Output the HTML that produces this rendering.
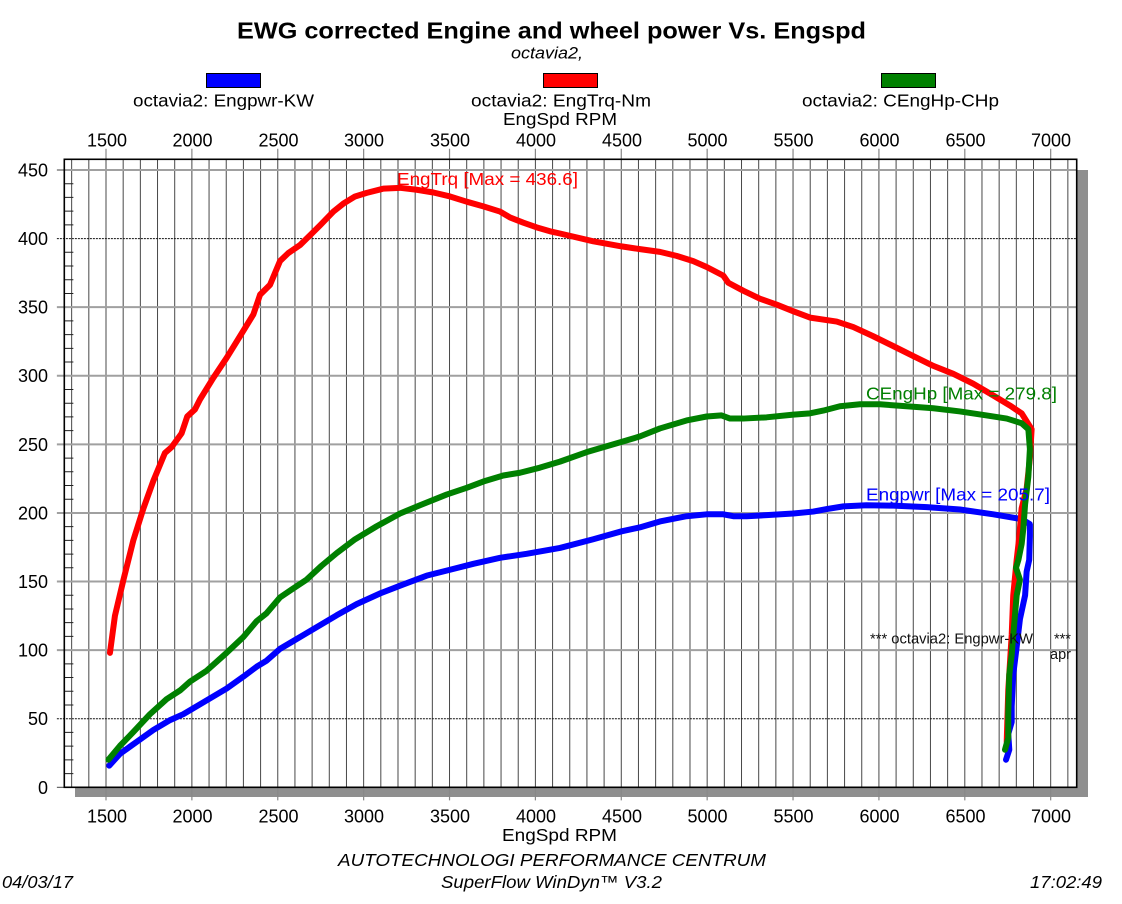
<!DOCTYPE html>
<html>
<head>
<meta charset="utf-8">
<style>
html,body{margin:0;padding:0;background:#fff;}
svg{display:block;}
text{font-family:"Liberation Sans",Arial,sans-serif;}
</style>
</head>
<body>
<svg width="1122" height="904" viewBox="0 0 1122 904" xmlns="http://www.w3.org/2000/svg">
<rect x="0" y="0" width="1122" height="904" fill="#fff"/>

<!-- Title & legend -->
<text x="551.5" y="38.5" font-size="23" font-weight="bold" text-anchor="middle" textLength="629" lengthAdjust="spacingAndGlyphs">EWG corrected Engine and wheel power Vs. Engspd</text>
<text x="547" y="58.5" font-size="17" font-style="italic" text-anchor="middle" textLength="72" lengthAdjust="spacingAndGlyphs">octavia2,</text>

<rect x="206.5" y="73.5" width="54" height="14" fill="#0000ff" stroke="#000" stroke-width="1"/>
<rect x="543.5" y="73.5" width="54" height="14" fill="#ff0000" stroke="#000" stroke-width="1"/>
<rect x="881.5" y="73.5" width="54" height="14" fill="#008000" stroke="#000" stroke-width="1"/>

<text x="133" y="106.5" font-size="17.5" textLength="181" lengthAdjust="spacingAndGlyphs">octavia2: Engpwr-KW</text>
<text x="471" y="106.5" font-size="17.5" textLength="180" lengthAdjust="spacingAndGlyphs">octavia2: EngTrq-Nm</text>
<text x="802" y="106.5" font-size="17.5" textLength="197" lengthAdjust="spacingAndGlyphs">octavia2: CEngHp-CHp</text>
<text x="503" y="125" font-size="17.5" textLength="114" lengthAdjust="spacingAndGlyphs">EngSpd RPM</text>

<!-- shadow -->
<rect x="1077" y="170" width="11" height="627" fill="#8f8f8f"/>
<rect x="75" y="787" width="1013" height="10" fill="#8f8f8f"/>
<rect x="64.3" y="159.3" width="1012.4" height="628" fill="#fff"/>

<g transform="matrix(0.17176,0,0,-1.3718,-151.64,787.3)" fill="none">
  <!-- vertical grid -->
  <path vector-effect="non-scaling-stroke" stroke="#484848" stroke-width="1"
    d="M1300,0V457.8M1400,0V457.8M1500,0V457.8M1600,0V457.8M1700,0V457.8M1800,0V457.8M1900,0V457.8M2000,0V457.8M2100,0V457.8M2200,0V457.8M2300,0V457.8M2400,0V457.8M2500,0V457.8M2600,0V457.8M2700,0V457.8M2800,0V457.8M2900,0V457.8M3000,0V457.8M3100,0V457.8M3200,0V457.8M3300,0V457.8M3400,0V457.8M3500,0V457.8M3600,0V457.8M3700,0V457.8M3800,0V457.8M3900,0V457.8M4000,0V457.8M4100,0V457.8M4200,0V457.8M4300,0V457.8M4400,0V457.8M4500,0V457.8M4600,0V457.8M4700,0V457.8M4800,0V457.8M4900,0V457.8M5000,0V457.8M5100,0V457.8M5200,0V457.8M5300,0V457.8M5400,0V457.8M5500,0V457.8M5600,0V457.8M5700,0V457.8M5800,0V457.8M5900,0V457.8M6000,0V457.8M6100,0V457.8M6200,0V457.8M6300,0V457.8M6400,0V457.8M6500,0V457.8M6600,0V457.8M6700,0V457.8M6800,0V457.8M6900,0V457.8M7000,0V457.8M7100,0V457.8"/>
  <!-- major ticks top / bottom -->
  <path vector-effect="non-scaling-stroke" stroke="#888" stroke-width="1.2"
    d="M1500,457.8V465.5M2000,457.8V465.5M2500,457.8V465.5M3000,457.8V465.5M3500,457.8V465.5M4000,457.8V465.5M4500,457.8V465.5M5000,457.8V465.5M5500,457.8V465.5M6000,457.8V465.5M6500,457.8V465.5M7000,457.8V465.5
       M1500,0V-9.5M2000,0V-9.5M2500,0V-9.5M3000,0V-9.5M3500,0V-9.5M4000,0V-9.5M4500,0V-9.5M5000,0V-9.5M5500,0V-9.5M6000,0V-9.5M6500,0V-9.5M7000,0V-9.5"/>
  <!-- horizontal grid gray -->
  <path vector-effect="non-scaling-stroke" stroke="#a0a0a0" stroke-width="2"
    d="M1214,450H7151M1214,350H7151M1214,300H7151M1214,250H7151M1214,200H7151M1214,150H7151M1214,100H7151"/>
  <!-- horizontal grid dark dotted -->
  <path vector-effect="non-scaling-stroke" stroke="#111" stroke-width="1" stroke-dasharray="2,1"
    d="M1214,400H7151M1214,50H7151"/>
  <path vector-effect="non-scaling-stroke" stroke="#444" stroke-width="1" d="M1214,0H1257"/>
  <!-- minor ticks left -->
  <path vector-effect="non-scaling-stroke" stroke="#222" stroke-width="1"
    d="M1257,10H1310M1257,20H1310M1257,30H1310M1257,40H1310M1257,60H1310M1257,70H1310M1257,80H1310M1257,90H1310M1257,110H1310M1257,120H1310M1257,130H1310M1257,140H1310M1257,160H1310M1257,170H1310M1257,180H1310M1257,190H1310M1257,210H1310M1257,220H1310M1257,230H1310M1257,240H1310M1257,260H1310M1257,270H1310M1257,280H1310M1257,290H1310M1257,310H1310M1257,320H1310M1257,330H1310M1257,340H1310M1257,360H1310M1257,370H1310M1257,380H1310M1257,390H1310M1257,410H1310M1257,420H1310M1257,430H1310M1257,440H1310"/>
</g>

<!-- plot border -->
<rect x="64.3" y="159.3" width="1012.4" height="628" fill="none" stroke="#000" stroke-width="1.6"/>

<!-- series -->
<g transform="matrix(0.17176,0,0,-1.3718,-151.64,787.3)" fill="none" stroke-linejoin="round" stroke-linecap="round">
  <path vector-effect="non-scaling-stroke" stroke="#0000ff" stroke-width="6"
    d="M1519,15.8L1581,24.4L1678,33.1L1776,41.8L1873,49L1950,53.3L2008,57.6L2105,64.8L2202,72L2300,80.7L2377,87.9L2435,92.3L2513,100.9L2571,105.2L2649,111L2746,118.2L2843,125.4L2959,133.5L3095,141.3L3231,147.9L3367,154.3L3503,158.6L3639,162.9L3794,167.3L3949,170.2L4143,174.5L4337,180.8L4502,186.6L4609,189.5L4725,193.8L4880,197.6L4997,199L5094,199L5152,197.6L5230,197.6L5346,198.4L5502,199.6L5618,201L5696,202.8L5793,204.8L5928,205.6L6084,205.3L6278,204.2L6472,202.5L6666,199L6831,195.5L6879,191.8L6879,183.1L6875,165.8L6860,157.2L6851,139.9L6821,122.6L6802,102.4L6782,82.2L6773,59.1L6773,47.6L6753,38.9L6759,27.4L6740,20.1"/>
  <path vector-effect="non-scaling-stroke" stroke="#ff0000" stroke-width="6"
    d="M1523,98L1552,125L1601,151L1659,180L1717,203L1776,223.5L1843,243.7L1882,248L1940,258L1973,270.3L2018,275.5L2047,282.7L2125,298.5L2202,313L2280,328.8L2358,344.7L2397,359.1L2455,366.3L2513,383.6L2561,389.4L2629,395.2L2688,402.4L2746,409.6L2824,419.7L2882,425.5L2950,430.7L3018,433.3L3115,436.4L3212,437L3309,435.6L3406,433.6L3503,430.7L3600,426.9L3697,423.5L3794,419.7L3852,415.4L3930,411.6L4007,408.2L4085,405.3L4143,403.7L4337,398L4502,394.3L4609,392.3L4725,390.3L4822,387.4L4919,383.6L4997,379.3L5094,373L5123,367.8L5210,362L5307,356.2L5404,351.9L5502,347L5599,342.4L5754,339.5L5851,335.5L5967,328.8L6084,321.6L6200,314.4L6317,307.2L6433,301.4L6549,294.2L6666,285.6L6763,278.3L6831,272.6L6889,261L6879,240L6860,217.8L6831,203.3L6815,180L6802,165.8L6782,139.9L6773,111L6753,70.6L6744,33.1"/>
  <path vector-effect="non-scaling-stroke" stroke="#008000" stroke-width="6"
    d="M1514,20.1L1581,30.2L1659,40.3L1756,53.3L1853,64.3L1931,70.6L1989,77L2086,85L2202,98L2300,109.6L2377,121.1L2435,126.9L2513,138.4L2581,144.2L2668,151.4L2755,161.5L2843,170.7L2950,180.8L3076,190.3L3212,199.6L3328,205.6L3483,213.4L3600,218.3L3697,222.9L3813,227.3L3910,229.3L4026,233L4143,237.4L4298,244.3L4502,251.8L4609,255.8L4725,261.6L4880,267.4L4997,270.3L5084,271.1L5133,268.8L5210,268.8L5346,269.7L5502,271.7L5599,272.6L5676,274.6L5773,277.8L5890,279.2L6006,279.2L6161,277.8L6317,276.3L6472,274L6627,271.1L6744,268.8L6831,265.4L6870,261L6879,246.6L6870,226.4L6851,206.2L6841,188.9L6831,177.4L6812,165.8L6798,160L6821,151.4L6802,139.9L6782,111L6773,96.6L6759,82.2L6753,53.3L6753,36L6734,27.4"/>
</g>

<!-- annotations -->
<text x="397" y="185" font-size="17.5" fill="#ff0000" textLength="181" lengthAdjust="spacingAndGlyphs">EngTrq [Max = 436.6]</text>
<text x="866" y="399.5" font-size="17.5" fill="#008000" textLength="191" lengthAdjust="spacingAndGlyphs">CEngHp [Max = 279.8]</text>
<text x="866" y="500.5" font-size="17.5" fill="#0000ff" textLength="184" lengthAdjust="spacingAndGlyphs">Engpwr [Max = 205.7]</text>
<text x="870" y="643.5" font-size="14.5" fill="#111" textLength="163" lengthAdjust="spacingAndGlyphs">*** octavia2: Engpwr-KW</text>
<text x="1054" y="643.5" font-size="14.5" fill="#111">***</text>
<text x="1050" y="659" font-size="14.5" fill="#111">apr</text>

<!-- top tick labels -->
<g font-size="18" text-anchor="middle">
<text x="107" y="146.5">1500</text>
<text x="192.5" y="146.5">2000</text>
<text x="278.5" y="146.5">2500</text>
<text x="364" y="146.5">3000</text>
<text x="450" y="146.5">3500</text>
<text x="536" y="146.5">4000</text>
<text x="622" y="146.5">4500</text>
<text x="707.5" y="146.5">5000</text>
<text x="793.5" y="146.5">5500</text>
<text x="879.5" y="146.5">6000</text>
<text x="965.5" y="146.5">6500</text>
<text x="1051" y="146.5">7000</text>
</g>
<!-- bottom tick labels -->
<g font-size="18" text-anchor="middle">
<text x="107" y="822.5">1500</text>
<text x="192.5" y="822.5">2000</text>
<text x="278.5" y="822.5">2500</text>
<text x="364" y="822.5">3000</text>
<text x="450" y="822.5">3500</text>
<text x="536" y="822.5">4000</text>
<text x="622" y="822.5">4500</text>
<text x="707.5" y="822.5">5000</text>
<text x="793.5" y="822.5">5500</text>
<text x="879.5" y="822.5">6000</text>
<text x="965.5" y="822.5">6500</text>
<text x="1051" y="822.5">7000</text>
</g>
<!-- y labels -->
<g font-size="18" text-anchor="end">
<text x="48" y="176.5">450</text>
<text x="48" y="245">400</text>
<text x="48" y="313.6">350</text>
<text x="48" y="382.2">300</text>
<text x="48" y="450.8">250</text>
<text x="48" y="519.4">200</text>
<text x="48" y="588">150</text>
<text x="48" y="656.6">100</text>
<text x="48" y="725.2">50</text>
<text x="48" y="793.8">0</text>
</g>

<!-- footer -->
<text x="502" y="841" font-size="17.5" textLength="115" lengthAdjust="spacingAndGlyphs">EngSpd RPM</text>
<text x="338" y="866" font-size="17.5" font-style="italic" textLength="428" lengthAdjust="spacingAndGlyphs">AUTOTECHNOLOGI PERFORMANCE CENTRUM</text>
<text x="441" y="888" font-size="17.5" font-style="italic" textLength="221" lengthAdjust="spacingAndGlyphs">SuperFlow WinDyn™ V3.2</text>
<text x="2" y="888" font-size="17.5" font-style="italic" textLength="71" lengthAdjust="spacingAndGlyphs">04/03/17</text>
<text x="1030" y="888" font-size="17.5" font-style="italic" textLength="72" lengthAdjust="spacingAndGlyphs">17:02:49</text>
</svg>
</body>
</html>
